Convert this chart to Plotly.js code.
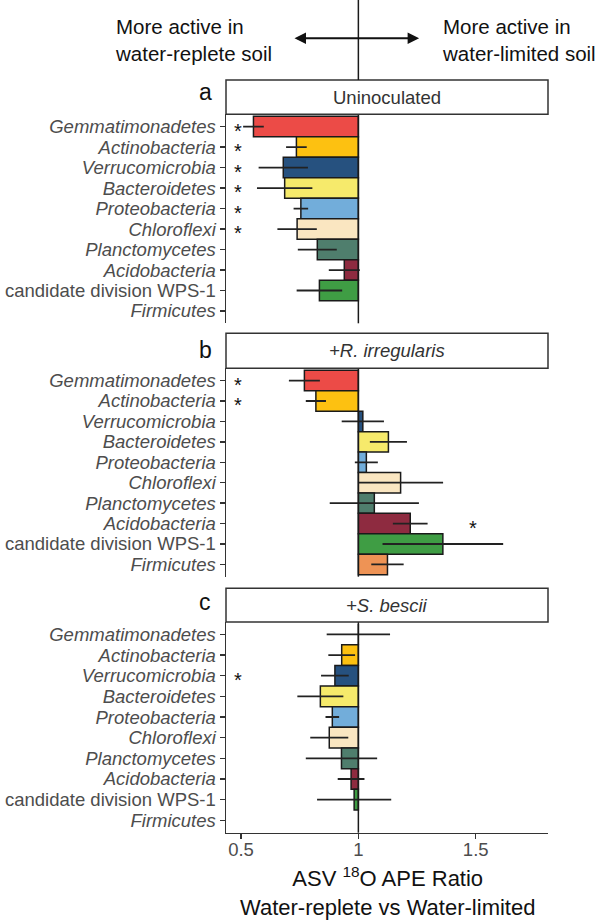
<!DOCTYPE html>
<html>
<head>
<meta charset="utf-8">
<script src="https://cdn.plot.ly/plotly-3.0.1.min.js"></script>
<style>html,body{margin:0;padding:0;background:#fff;}#chart{width:600px;height:922px;}</style>
</head>
<body>
<div id="chart"></div>
<script>
// ---- data ----
var categories = ["Gemmatimonadetes", "Actinobacteria", "Verrucomicrobia", "Bacteroidetes",
  "Proteobacteria", "Chloroflexi", "Planctomycetes", "Acidobacteria",
  "candidate division WPS-1", "Firmicutes"];
var italicLabel = [true, true, true, true, true, true, true, true, false, true];
var phylumColors = ["#EC4B47", "#FDC111", "#26517F", "#F6EA6B", "#72ADDA",
  "#FAE6C1", "#4F7E6D", "#8E2B40", "#3F9D44", "#EE9355"];

var panelLetters = ["a", "b", "c"];
var panelNames = ["Uninoculated", "<i>+R. irregularis</i>", "<i>+S. bescii</i>"];

// ASV 18O APE ratio (water-replete vs water-limited) and error half-widths
var ratioUninoculated = [0.553, 0.736, 0.680, 0.686, 0.755, 0.739, 0.825, 0.940, 0.834, null];
var errUninoculated   = [0.044, 0.044, 0.105, 0.118, 0.031, 0.084, 0.083, 0.066, 0.097, null];
var ratioRirregularis = [0.770, 0.819, 1.019, 1.128, 1.034, 1.180, 1.068, 1.221, 1.360, 1.124];
var errRirregularis   = [0.066, 0.043, 0.090, 0.079, 0.049, 0.181, 0.190, 0.074, 0.257, 0.069];
var ratioSbescii      = [1.000, 0.929, 0.900, 0.838, 0.889, 0.876, 0.928, 0.969, 0.982, null];
var errSbescii        = [0.135, 0.057, 0.059, 0.098, 0.029, 0.081, 0.152, 0.057, 0.158, null];

// significance: -1 = star on left side, 1 = star on right side, 0 = none
var sigUninoculated = [-1, -1, -1, -1, -1, -1, 0, 0, 0, 0];
var sigRirregularis = [-1, -1, 0, 0, 0, 0, 0, 1, 0, 0];
var sigSbescii      = [0, 0, -1, 0, 0, 0, 0, 0, 0, 0];

var xTicks = [0.5, 1, 1.5];
var xTickText = ["0.5", "1", "1.5"];

// ---- layout constants ----
var BASE = 1;
var W = 600, H = 922;
var FONT = "Liberation Sans, Arial, Helvetica, sans-serif";
var STAR_X = {"-1": 0.487, "1": 1.49};
var plotPx = [[114.3, 323.3], [368.3, 576.7], [622, 832.7]];
var stripPx = [[80, 114.3], [333.3, 368.3], [588.3, 622]];
var letterPx = [92, 350, 602];
function py(p) { return 1 - p / H; }

var ratios = [ratioUninoculated, ratioRirregularis, ratioSbescii];
var errs = [errUninoculated, errRirregularis, errSbescii];
var sigs = [sigUninoculated, sigRirregularis, sigSbescii];
var tickText = categories.map(function (c, i) { return italicLabel[i] ? "<i>" + c + "</i>" : c; });

var traces = [];
var layout = {
  width: W, height: H,
  margin: {l: 226, r: 51.7, t: 0, b: 0},
  paper_bgcolor: "#fff", plot_bgcolor: "rgba(0,0,0,0)",
  showlegend: false,
  font: {family: FONT, color: "#333"},
  xaxis: {
    range: [0.436, 1.808], anchor: "y3", showgrid: false, zeroline: false,
    showline: true, linecolor: "#333", linewidth: 1.5,
    ticks: "outside", ticklen: 5, tickwidth: 1.5, tickcolor: "#333",
    tickvals: xTicks, ticktext: xTickText, ticklabelstandoff: -5,
    tickfont: {family: FONT, size: 18.5, color: "#4d4d4d"}
  },
  shapes: [],
  annotations: []
};

for (var p = 0; p < 3; p++) {
  var ya = p === 0 ? "y" : "y" + (p + 1);
  var yKey = p === 0 ? "yaxis" : "yaxis" + (p + 1);
  layout[yKey] = {
    domain: [py(plotPx[p][1]), py(plotPx[p][0])],
    anchor: "x", type: "category",
    categoryorder: "array", categoryarray: categories,
    range: [categories.length - 0.4, -0.6],
    showgrid: false, zeroline: false,
    showline: true, linecolor: "#333", linewidth: 1.5,
    ticks: "outside", ticklen: 5, tickwidth: 1.5, tickcolor: "#333",
    tickvals: categories, ticktext: tickText,
    tickfont: {family: FONT, size: 18.5, color: "#4d4d4d"}
  };
  var r = ratios[p];
  traces.push({
    type: "bar", orientation: "h", xaxis: "x", yaxis: ya,
    y: categories,
    base: r.map(function (v) { return v === null ? null : BASE; }),
    x: r.map(function (v) { return v === null ? null : v - BASE; }),
    width: 1,
    marker: {color: phylumColors, line: {color: "#1a1a1a", width: 1.5}},
    error_x: {type: "data", array: errs[p], symmetric: true, width: 0, thickness: 1.8, color: "#222"},
    hoverinfo: "skip"
  });
  // significance stars, placed from the sig arrays
  sigs[p].forEach(function (s, i) {
    if (s !== 0) {
      layout.annotations.push({
        xref: "x", yref: ya, x: STAR_X[String(s)], y: categories[i],
        text: "*", showarrow: false, xanchor: "center", yanchor: "middle", yshift: -4,
        font: {family: FONT, size: 20, color: "#111"}
      });
    }
  });
  // reference line at ratio = 1 inside the panel
  layout.shapes.push({
    type: "line", xref: "x", x0: BASE, x1: BASE,
    yref: ya + " domain", y0: 0, y1: 1,
    line: {color: "#1a1a1a", width: 1.5}, layer: "above"
  });
  // strip
  layout.shapes.push({
    type: "rect", xref: "paper", x0: 0, x1: 1,
    yref: "paper", y0: py(stripPx[p][1]), y1: py(stripPx[p][0]),
    line: {color: "#333", width: 1.5}, fillcolor: "#fff"
  });
  layout.annotations.push({
    xref: "paper", yref: "paper", x: 0.5, y: py((stripPx[p][0] + stripPx[p][1]) / 2),
    text: panelNames[p], showarrow: false, xanchor: "center", yanchor: "middle",
    font: {family: FONT, size: 18.5, color: "#333"}
  });
  layout.annotations.push({
    xref: "paper", yref: "paper", x: (205 - 226) / 322.3, y: py(letterPx[p]),
    text: panelLetters[p], showarrow: false, xanchor: "center", yanchor: "middle",
    font: {family: FONT, size: 23, color: "#111"}
  });
}

// top reference line segment
layout.shapes.push({
  type: "line", xref: "x", x0: BASE, x1: BASE, yref: "paper", y0: py(80), y1: 1,
  line: {color: "#1a1a1a", width: 1.5}
});

// direction arrows and labels
layout.annotations.push({
  xref: "paper", yref: "paper", x: (419.3 - 226) / 322.3, y: py(38.3),
  ax: -127.6, ay: 0, axref: "pixel", ayref: "pixel",
  text: " ", showarrow: true, arrowhead: 2, arrowside: "end+start",
  arrowsize: 1.15, arrowwidth: 2, arrowcolor: "#111"
});
layout.annotations.push({
  xref: "paper", yref: "paper", x: (112.7 - 226) / 322.3, y: py(40),
  text: "More active in<br>water-replete soil", showarrow: false,
  xanchor: "left", yanchor: "middle", align: "left",
  font: {family: FONT, size: 20.5, color: "#111"}
});
layout.annotations.push({
  xref: "paper", yref: "paper", x: (440 - 226) / 322.3, y: py(40),
  text: "More active in<br>water-limited soil", showarrow: false,
  xanchor: "left", yanchor: "middle", align: "left",
  font: {family: FONT, size: 20.5, color: "#111"}
});

// x axis title (two lines)
layout.annotations.push({
  xref: "paper", yref: "paper", x: 0.5, y: py(891),
  text: "ASV <sup>18</sup>O APE Ratio<br>Water-replete vs Water-limited", showarrow: false,
  xanchor: "center", yanchor: "middle", align: "center",
  font: {family: FONT, size: 22, color: "#111"}
});

Plotly.newPlot("chart", traces, layout, {staticPlot: true, displayModeBar: false});
</script>
</body>
</html>
